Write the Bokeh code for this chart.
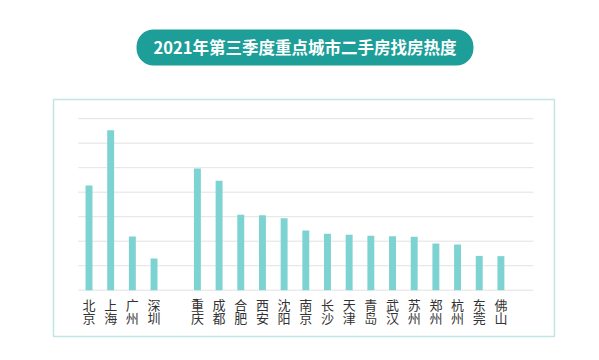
from bokeh.plotting import figure
from bokeh.models import Label, Range1d
from bokeh.core.properties import value
from bokeh.embed import file_html
from bokeh.resources import INLINE

title_text = "2021年第三季度重点城市二手房找房热度"
tier1_cities = ["北京", "上海", "广州", "深圳"]
tier1_values = [4.27, 6.53, 2.19, 1.29]
other_cities = ["重庆", "成都", "合肥", "西安", "沈阳", "南京", "长沙", "天津",
                "青岛", "武汉", "苏州", "郑州", "杭州", "东莞", "佛山"]
other_values = [4.97, 4.47, 3.08, 3.06, 2.94, 2.44, 2.30, 2.26,
                2.22, 2.20, 2.18, 1.91, 1.87, 1.40, 1.39]
grid_ticks = [0, 1, 2, 3, 4, 5, 6, 7]

FONT = "Noto Sans CJK SC"

cities = tier1_cities + other_cities
values = tier1_values + other_values
xs = list(range(len(tier1_cities))) + [len(tier1_cities) + 1 + i for i in range(len(other_cities))]

p = figure(width=591, height=352, output_backend="svg", toolbar_location=None,
           x_range=Range1d(-4.082, 23.178), y_range=Range1d(-2.543, 11.824),
           x_axis_type=None, y_axis_type=None,
           min_border_left=0, min_border_right=0, min_border_top=0, min_border_bottom=0)
p.outline_line_color = None
p.background_fill_color = "white"
p.border_fill_color = "white"

# panel border around the chart area
p.quad(left=-1.637, right=21.47, bottom=-1.89, top=7.784,
       fill_color=None, line_color="#bfe5e4", line_width=1.5)

p.segment(x0=-0.5, x1=20.5, y0=grid_ticks, y1=grid_ticks, line_color="#e3e3e3", line_width=1)

p.vbar(x=xs, top=values, bottom=0, width=0.32, fill_color="#7dd3d1", line_color=None)

p.text(x=xs, y=[-0.6] * len(xs), text=[c[0] for c in cities],
       text_align="center", text_baseline="middle", text_font=value(FONT),
       text_font_size="13px", text_color="#333333")
p.text(x=xs, y=[-1.11] * len(xs), text=[c[1] for c in cities],
       text_align="center", text_baseline="middle", text_font=value(FONT),
       text_font_size="13px", text_color="#333333")

title = Label(x=9.963, y=9.906, text=title_text,
              text_align="center", text_baseline="middle", text_font=FONT,
              text_font_size="16.5px", text_font_style="bold", text_color="white",
              background_fill_color="#1d9e98", background_fill_alpha=1.0,
              border_radius=17, padding=(17, 6))
p.add_layout(title)

open("out.html", "w").write(file_html(p, INLINE))
